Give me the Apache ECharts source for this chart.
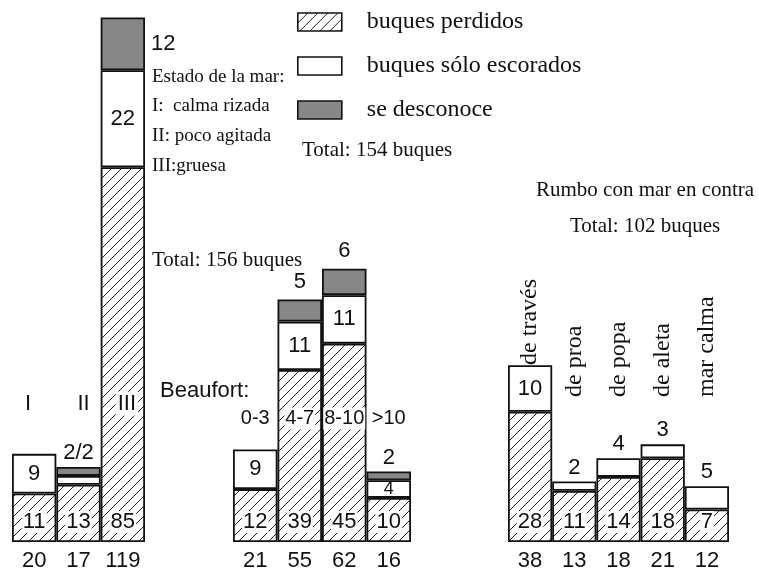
<!DOCTYPE html>
<html><head><meta charset="utf-8">
<script src="https://cdn.jsdelivr.net/npm/echarts@6/dist/echarts.min.js"></script>
<style>html,body{margin:0;padding:0;background:#fff}#c{width:759px;height:572px}</style>
</head><body><div id="c"></div>
<script>
// ---------- data ----------
const seaCats = ['I', 'II', 'III'];
const seaLost = [11, 13, 85];
const seaHeeled = [9, 2, 22];
const seaUnknown = [0, 2, 12];

const bftCats = ['0-3', '4-7', '8-10', '>10'];
const bftLost = [12, 39, 45, 10];
const bftHeeled = [9, 11, 11, 4];
const bftUnknown = [0, 5, 6, 2];

const hdgCats = ['de través', 'de proa', 'de popa', 'de aleta', 'mar calma'];
const hdgLost = [28, 11, 14, 18, 7];
const hdgHeeled = [10, 2, 4, 3, 5];

const seriesNames = ['buques perdidos', 'buques sólo escorados', 'se desconoce'];

// ---------- styles ----------
const SANS = '"Liberation Sans", Arial, sans-serif';
const SERIF = '"Liberation Serif", "Times New Roman", serif';
const INK = '#111';
const GRAY = '#878787';

function hatch() {
  const c = document.createElement('canvas');
  c.width = 10; c.height = 10;
  const g = c.getContext('2d');
  g.fillStyle = '#fff'; g.fillRect(0, 0, 10, 10);
  g.strokeStyle = '#222'; g.lineWidth = 1;
  g.beginPath();
  g.moveTo(0, 10); g.lineTo(10, 0);
  g.moveTo(-2, 2); g.lineTo(2, -2);
  g.moveTo(8, 12); g.lineTo(12, 8);
  g.stroke();
  return c;
}
const HATCH = { image: hatch(), repeat: 'repeat' };

const baseLabel = { color: INK, fontFamily: SANS, fontSize: 22 };
const L = {
  bottom: { show: true, position: 'insideBottom', distance: 9, backgroundColor: '#fff', padding: [0, 1] },
  inside: { show: true, position: 'inside' },
  top: { show: true, position: 'top', distance: 3 },
  top8: { show: true, position: 'top', distance: 7 },
  right: { show: true, position: 'right', distance: 6 },
  none: { show: false }
};

function sumAt(arrs, i) { return arrs.reduce((s, a) => s + a[i], 0); }

function bar(name, gi, values, color, labels) {
  return {
    type: 'bar', name, xAxisIndex: gi, yAxisIndex: gi, stack: 'g' + gi,
    barWidth: '100%', z: 2,
    data: values.map((v, i) => ({ value: v === 0 ? '-' : v, label: labels[i] })),
    itemStyle: { color, borderColor: INK, borderWidth: 1.8 },
    label: Object.assign({ show: false }, baseLabel),
    emphasis: { disabled: true }, silent: true
  };
}

function catLabels(gi, cats, yVals, opts, offsets) {
  return {
    type: 'scatter', xAxisIndex: gi, yAxisIndex: gi, z: 6, silent: true,
    symbolSize: 0, itemStyle: { color: '#fff', opacity: 1 },
    data: cats.map((c, i) => ({ value: [i, yVals[i]], label: { offset: offsets ? offsets[i] : [0, 0] } })),
    label: Object.assign({
      show: true, position: 'inside', color: INK, opacity: 1,
      formatter: p => cats[p.dataIndex]
    }, opts),
    emphasis: { disabled: true }
  };
}

const series = [
  // group 1 : estado de la mar
  bar(seriesNames[0], 0, seaLost, HATCH, seaLost.map(() => L.bottom)),
  bar(seriesNames[1], 0, seaHeeled, '#fff', [L.inside, L.none, L.inside]),
  bar(seriesNames[2], 0, seaUnknown, GRAY, [L.none,
    Object.assign({}, L.top, { formatter: () => seaHeeled[1] + '/' + seaUnknown[1] }),
    L.right]),
  // group 2 : Beaufort
  bar(seriesNames[0], 1, bftLost, HATCH, bftLost.map(() => L.bottom)),
  bar(seriesNames[1], 1, bftHeeled, '#fff', [L.inside, L.inside, L.inside,
    Object.assign({}, L.inside, { fontSize: 18 })]),
  bar(seriesNames[2], 1, bftUnknown, GRAY, [L.none, L.top8, L.top8, L.top]),
  // group 3 : rumbo
  bar(seriesNames[0], 2, hdgLost, HATCH, hdgLost.map(() => L.bottom)),
  bar(seriesNames[1], 2, hdgHeeled, '#fff', [L.inside, L.top, L.top, L.top, L.top]),
  // category name labels
  catLabels(0, seaCats, [31.4, 31.4, 31.4], {
    fontFamily: SANS, fontSize: 22, backgroundColor: '#fff', padding: [1, 2]
  }, [[-6, 0], [5, 0], [4, 0]]),
  catLabels(1, bftCats, [28, 28, 28, 28], {
    fontFamily: SANS, fontSize: 20, backgroundColor: '#fff', padding: [1, 1]
  }),
  catLabels(2, hdgCats, [39.8, 29.9, 29.9, 29.9, 29.9], {
    fontFamily: SERIF, fontSize: 24, rotate: 90, align: 'left', verticalAlign: 'middle'
  }, [[-8, 0], [6, 0], [6, 0], [6, 0], [6, 0]])
];

const seaTotals = seaCats.map((c, i) => sumAt([seaLost, seaHeeled, seaUnknown], i));
const bftTotals = bftCats.map((c, i) => sumAt([bftLost, bftHeeled, bftUnknown], i));
const hdgTotals = hdgCats.map((c, i) => sumAt([hdgLost, hdgHeeled], i));

function xAxis(gi, cats, totals) {
  return {
    type: 'category', gridIndex: gi, data: cats,
    axisLine: { show: false }, axisTick: { show: false },
    axisLabel: { margin: 8, color: INK, fontFamily: SANS, fontSize: 22, interval: 0,
      formatter: (v, i) => String(totals[i]) }
  };
}
function yAxis(gi, max) {
  return { type: 'value', gridIndex: gi, min: 0, max, show: false, splitLine: { show: false } };
}

function txt(text, x, y, size, family) {
  return { type: 'text', x, y, silent: true,
    style: { text, fill: INK, font: size + 'px ' + (family || SERIF), verticalAlign: 'middle', align: 'left' } };
}

const option = {
  animation: false,
  grid: [
    { left: 12, width: 133, top: 13, bottom: 28 },
    { left: 233, width: 178, top: 13, bottom: 28 },
    { left: 508, width: 221, top: 30.5, bottom: 30 }
  ],
  xAxis: [xAxis(0, seaCats, seaTotals), xAxis(1, bftCats, bftTotals), xAxis(2, hdgCats, hdgTotals)],
  yAxis: [yAxis(0, 120), yAxis(1, 120), yAxis(2, 110)],
  legend: {
    data: seriesNames, orient: 'vertical', left: 297, top: 10, padding: 0,
    itemWidth: 44, itemHeight: 18, itemGap: 20, icon: 'rect',
    selectedMode: false,
    itemStyle: { borderColor: INK, borderWidth: 1.6 },
    textStyle: { fontFamily: SERIF, fontSize: 24, color: INK, padding: [0, 0, 0, 20] }
  },
  graphic: [
    txt('Estado de la mar:', 152, 77.5, 19),
    txt('I:  calma rizada', 152, 106.5, 19),
    txt('II: poco agitada', 152, 136.5, 19),
    txt('III:gruesa', 152, 166.5, 19),
    txt('Total: 156 buques', 152, 260, 21),
    txt('Total: 154 buques', 302, 150, 21),
    txt('Rumbo con mar en contra', 536, 190, 21),
    txt('Total: 102 buques', 570, 226, 21),
    txt('Beaufort:', 160, 391, 22, SANS)
  ],
  series
};

const chart = echarts.init(document.getElementById('c'), null, { renderer: 'canvas' });
chart.setOption(option);
</script>
</body></html>
